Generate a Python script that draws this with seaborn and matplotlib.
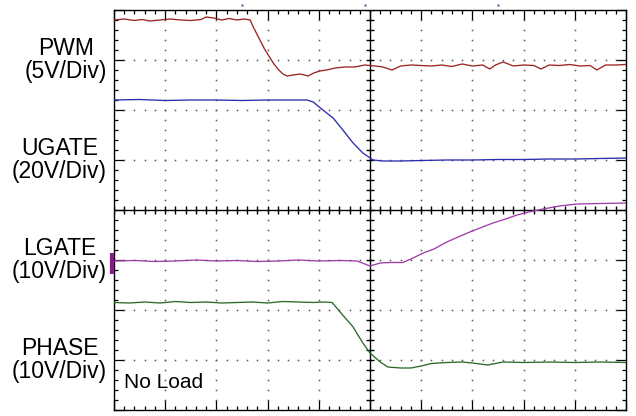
import numpy as np
import pandas as pd
import seaborn as sns
import matplotlib.pyplot as plt

# scope traces, x and y in divisions (10 x 8 screen)
pwm_x = [0, 0.2, 0.4, 0.55, 0.7, 0.9, 1.1, 1.3, 1.5, 1.7, 1.8, 1.95, 2.1, 2.25, 2.4, 2.55, 2.66,
         2.72, 2.78, 2.86, 2.94, 3.0, 3.05, 3.11, 3.2, 3.3, 3.38, 3.5, 3.63, 3.72, 3.79, 3.9, 4.02,
         4.15, 4.32, 4.51, 4.7, 4.9, 5.1, 5.25, 5.43, 5.6, 5.8, 6.0, 6.2, 6.4, 6.6, 6.8, 7.0, 7.2,
         7.34, 7.45, 7.6, 7.8, 8.0, 8.2, 8.34, 8.5, 8.7, 8.9, 9.1, 9.3, 9.43, 9.6, 9.8, 10.0]
pwm_y = [7.8, 7.82, 7.79, 7.81, 7.78, 7.8, 7.82, 7.8, 7.79, 7.81, 7.86, 7.84, 7.8, 7.83, 7.8, 7.82, 7.8,
         7.66, 7.54, 7.38, 7.22, 7.12, 7.04, 6.94, 6.82, 6.72, 6.68, 6.7, 6.72, 6.7, 6.68, 6.74, 6.78,
         6.8, 6.84, 6.86, 6.86, 6.9, 6.88, 6.86, 6.8, 6.88, 6.9, 6.89, 6.88, 6.9, 6.87, 6.92, 6.88, 6.9,
         6.82, 6.9, 6.96, 6.88, 6.9, 6.89, 6.82, 6.9, 6.89, 6.91, 6.88, 6.89, 6.8, 6.9, 6.9, 6.91]

ugate_x = [0, 0.5, 1.0, 1.5, 2.0, 2.5, 3.0, 3.5, 3.77, 3.89, 4.08, 4.28, 4.47, 4.67, 4.86, 5.06,
           5.25, 5.6, 6.0, 6.5, 7.0, 7.5, 8.0, 8.5, 9.0, 9.5, 10.0]
ugate_y = [6.2, 6.21, 6.19, 6.2, 6.2, 6.19, 6.2, 6.2, 6.2, 6.16, 6.0, 5.84, 5.6, 5.34, 5.14, 5.0,
           4.98, 4.98, 4.99, 5.0, 5.0, 5.01, 5.01, 5.02, 5.02, 5.03, 5.04]

lgate_x = [0, 0.4, 0.8, 1.2, 1.6, 2.0, 2.4, 2.8, 3.2, 3.6, 4.0, 4.4, 4.75, 4.9, 5.0, 5.2, 5.4,
           5.64, 5.8, 6.04, 6.25, 6.5, 6.7, 6.95, 7.2, 7.4, 7.65, 7.87, 8.1, 8.38, 8.7, 9.04, 9.5, 10.0]
lgate_y = [2.98, 2.99, 2.97, 2.98, 3.0, 2.98, 2.99, 2.97, 2.98, 3.0, 2.98, 2.99, 2.98, 2.92, 2.88, 2.94, 2.95,
           2.95, 3.02, 3.14, 3.22, 3.36, 3.45, 3.56, 3.66, 3.74, 3.82, 3.9, 3.96, 4.02, 4.08, 4.12, 4.13, 4.14]

phase_x = [0, 0.3, 0.6, 0.9, 1.2, 1.5, 1.8, 2.1, 2.4, 2.7, 3.0, 3.3, 3.6, 3.9, 4.1, 4.26, 4.45,
           4.67, 4.86, 5.0, 5.2, 5.35, 5.6, 5.8, 6.0, 6.2, 6.5, 6.8, 7.0, 7.3, 7.6, 8.0, 8.5, 9.0, 9.5, 10.0]
phase_y = [2.15, 2.14, 2.16, 2.14, 2.17, 2.15, 2.16, 2.14, 2.15, 2.16, 2.14, 2.17, 2.16, 2.15, 2.16, 2.15, 1.92,
           1.66, 1.34, 1.14, 0.96, 0.86, 0.84, 0.84, 0.88, 0.93, 0.95, 0.96, 0.94, 0.9, 0.96, 0.95, 0.96, 0.95, 0.96, 0.95]

# small trigger / position markers above the screen
marker_x = [2.5, 4.9, 7.5]

labels = ["PWM\n(5V/Div)", "UGATE\n(20V/Div)", "LGATE\n(10V/Div)", "PHASE\n(10V/Div)"]
label_rows = [60, 160, 260, 360]  # pixel rows of block centres
note = "No Load"

colors = {"PWM": "#9c2424", "UGATE": "#2c2cb0", "LGATE": "#a03ca8", "PHASE": "#2a6a2a"}

frames = []
for name, xs, ys in [("PWM", pwm_x, pwm_y), ("UGATE", ugate_x, ugate_y),
                     ("LGATE", lgate_x, lgate_y), ("PHASE", phase_x, phase_y)]:
    frames.append(pd.DataFrame({"t": xs, "v": ys, "ch": name}))
df = pd.concat(frames, ignore_index=True)

sns.set_style("white")
plt.rcParams["font.family"] = ["Liberation Sans", "DejaVu Sans"]

fig = plt.figure(figsize=(6.36, 4.16), dpi=100)
ax = fig.add_axes([114 / 636, 6 / 416, 512 / 636, 400 / 416])

# dotted graticule
minor_x = np.arange(0, 10.01, 0.2)
minor_y = np.arange(0, 8.01, 0.2)
for gx in range(1, 10):
    if gx != 5:
        ax.plot(np.full_like(minor_y, gx), minor_y, ls="none", marker="s", ms=1.1,
                mec="none", color="#555555", zorder=1)
for gy in range(1, 8):
    if gy != 4:
        ax.plot(minor_x, np.full_like(minor_x, gy), ls="none", marker="s", ms=1.1,
                mec="none", color="#555555", zorder=1)

# centre cross with ticks
ax.axvline(5, color="black", lw=1.0, zorder=2)
ax.axhline(4, color="black", lw=1.0, zorder=2)
ax.plot(minor_x, np.full_like(minor_x, 4), ls="none", marker="|", ms=6, mew=1.0, color="black", zorder=2)
ax.plot(np.full_like(minor_y, 5), minor_y, ls="none", marker="_", ms=6, mew=1.0, color="black", zorder=2)

sns.lineplot(data=df, x="t", y="v", hue="ch", palette=colors, estimator=None, sort=False,
             legend=False, lw=0.95, ax=ax, zorder=3)

# channel marker on the left edge
ax.plot([-0.03, -0.03], [2.72, 3.14], color="#8a1a8a", lw=3, solid_capstyle="butt", clip_on=False, zorder=4)
ax.plot(marker_x, [8.1] * len(marker_x), ls="none", marker="s", ms=2, mec="none",
        color="#7a3a8a", clip_on=False)

ax.set_xlim(0, 10)
ax.set_ylim(0, 8)
ax.set_xticks(range(0, 11))
ax.set_yticks(range(0, 9))
ax.set_xticks(minor_x, minor=True)
ax.set_yticks(minor_y, minor=True)
ax.tick_params(which="both", direction="in", top=True, right=True, bottom=True, left=True,
               labelbottom=False, labelleft=False, color="black", width=0.9)
ax.tick_params(which="major", length=7)
ax.tick_params(which="minor", length=3.2)
ax.set_xlabel("")
ax.set_ylabel("")
for s in ax.spines.values():
    s.set_color("black")
    s.set_linewidth(1.0)

for lab, row in zip(labels, label_rows):
    fig.text(107 / 636, 1 - row / 416, lab, ha="right", va="center", multialignment="center",
             fontsize=16.5, linespacing=1.0, color="black")

ax.text(0.2, 0.55, note, ha="left", va="center", fontsize=15, color="black")

fig.savefig("out.png", dpi=100)
